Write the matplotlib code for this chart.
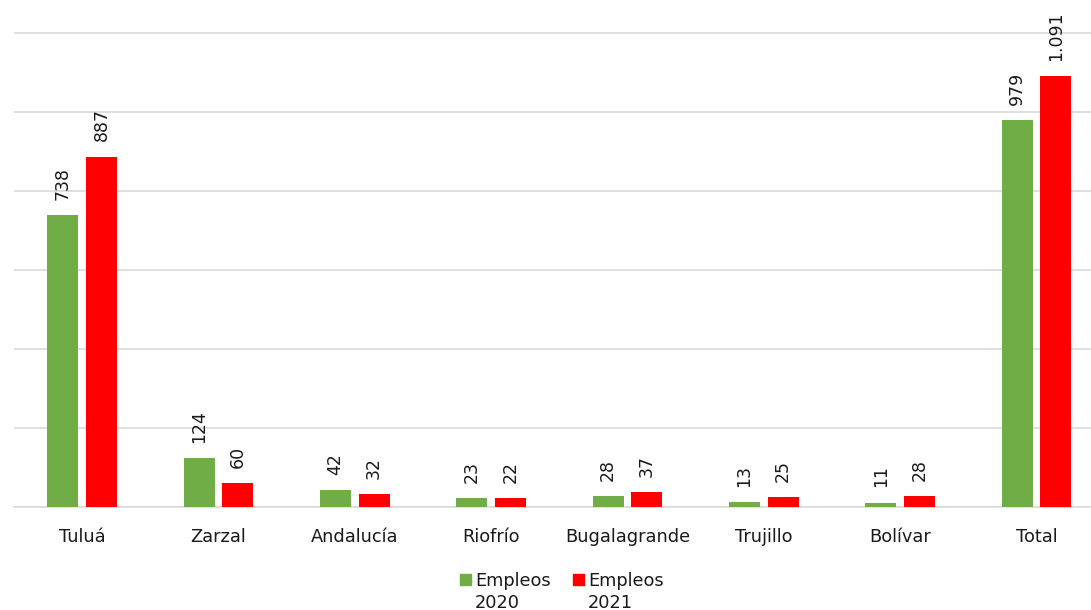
import matplotlib
matplotlib.use("Agg")
import matplotlib.pyplot as plt
from matplotlib.patches import Rectangle
import numpy as np

categories = ["Tuluá", "Zarzal", "Andalucía", "Riofrío", "Bugalagrande", "Trujillo", "Bolívar", "Total"]
empleos_2020 = [738, 124, 42, 23, 28, 13, 11, 979]
empleos_2021 = [887, 60, 32, 22, 37, 25, 28, 1091]
labels_2020 = ["738", "124", "42", "23", "28", "13", "11", "979"]
labels_2021 = ["887", "60", "32", "22", "37", "25", "28", "1.091"]
series_names = ["Empleos\n2020", "Empleos\n2021"]
colors = ["#70AD47", "#FF0000"]

plt.rcParams['font.family'] = ['DejaVu Sans']

W, H = 1091, 610
fig = plt.figure(figsize=(W / 100, H / 100), dpi=100)
ax = fig.add_axes([14 / W, (H - 507) / H, (1091 - 14) / W, 507 / H])

x = np.arange(len(categories))
bw = 0.228
off = 0.142
b1 = ax.bar(x - off, empleos_2020, bw, color=colors[0], label=series_names[0], zorder=3)
b2 = ax.bar(x + off, empleos_2021, bw, color=colors[1], label=series_names[1], zorder=3)

for rects, labs in ((b1, labels_2020), (b2, labels_2021)):
    for r, lab in zip(rects, labs):
        ax.annotate(lab, (r.get_x() + r.get_width() / 2, r.get_height()),
                    xytext=(0, 11), textcoords="offset points",
                    rotation=90, ha="center", va="bottom", fontsize=12.5, color="#1a1a1a")

ax.set_xlim(-0.5, 7.4)
ax.set_ylim(0, 1283.5)
ax.set_yticks(np.arange(0, 1201, 200))
ax.yaxis.grid(True, color="#D9D9D9", linewidth=1.2, zorder=0)
ax.tick_params(axis="y", left=False, labelleft=False)
ax.tick_params(axis="x", length=0, labelsize=12.8, pad=15, colors="#1a1a1a")
ax.set_xticks(x)
ax.set_xticklabels(categories)
for s in ["top", "right", "left"]:
    ax.spines[s].set_visible(False)
ax.spines["bottom"].set_color("#D9D9D9")
ax.spines["bottom"].set_linewidth(1.2)

# legend drawn manually so the key squares line up with the first text line
leg_x = [460, 573]
for lx, name, c in zip(leg_x, series_names, colors):
    fig.patches.append(Rectangle((lx / W, 1 - 585 / H), 11 / W, 11 / H,
                                 transform=fig.transFigure, color=c))
    fig.text((lx + 15) / W, 1 - 572 / H, name, ha="left", va="top",
             fontsize=12.8, color="#1a1a1a", linespacing=1.25)

fig.savefig("out.png", dpi=100)
